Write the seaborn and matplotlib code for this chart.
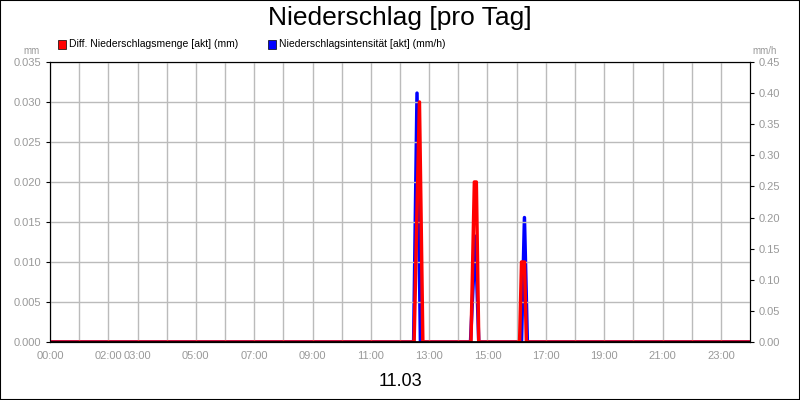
import matplotlib
matplotlib.use("Agg")
import matplotlib.pyplot as plt
import seaborn as sns
import pandas as pd

sns.set_style("white")
plt.rcParams['font.family'] = ['Liberation Sans', 'DejaVu Sans']

red_times = ["00:00", "12:29", "12:40", "12:47", "14:26", "14:33", "14:37", "14:42", "16:06", "16:10", "16:16", "16:20", "24:00"]
red_vals = [0, 0, 0.030, 0, 0, 0.020, 0.020, 0, 0, 0.010, 0.010, 0, 0]
blue_times = ["00:00", "12:28", "12:35", "12:42", "14:25", "14:35", "14:42", "16:10", "16:16", "16:22", "24:00"]
blue_vals = [0, 0, 0.40, 0, 0, 0.17, 0, 0, 0.20, 0, 0]
tick_labels = ["00:00", "02:00", "03:00", "05:00", "07:00", "09:00", "11:00", "13:00", "15:00", "17:00", "19:00", "21:00", "23:00"]

def hours(s):
    h, m = s.split(":")
    return int(h) + int(m) / 60

red = pd.DataFrame({"t": [hours(s) for s in red_times], "v": red_vals})
blue = pd.DataFrame({"t": [hours(s) for s in blue_times], "v": blue_vals})

fig = plt.figure(figsize=(8, 4), dpi=100)
fig.patches.append(plt.Rectangle((0, 0), 1, 1, transform=fig.transFigure, fill=False, ec="black", lw=1.5))
ax = fig.add_axes([50/800, 58/400, 700/800, 280/400])
ax2 = ax.twinx()

sns.lineplot(data=blue, x="t", y="v", ax=ax2, color="#0000ff", lw=2.5)
sns.lineplot(data=red, x="t", y="v", ax=ax, color="#ff0000", lw=2.5)
ax.set_zorder(ax2.get_zorder() + 1)
ax.patch.set_visible(False)
ax.axhline(0, color="black", lw=2, zorder=5)

ax.set_xlim(0, 24)
ax.set_ylim(0, 0.035)
ax2.set_ylim(0, 0.45)
ax.set_yticks([i * 0.005 for i in range(8)])
ax.set_yticklabels([f"{i*0.005:.3f}" for i in range(8)])
ax2.set_yticks([i * 0.05 for i in range(10)])
ax2.set_yticklabels([f"{i*0.05:.2f}" for i in range(10)])
ax.set_xticks(range(24), minor=True)
ax.set_xticks([hours(s) for s in tick_labels])
ax.set_xticklabels(tick_labels)
ax.grid(True, which="both", axis="x", color="#bbbbbb", lw=1)
ax.grid(True, axis="y", color="#bbbbbb", lw=1)
for a in (ax, ax2):
    a.set_xlabel("")
    a.set_ylabel("")
    a.tick_params(labelsize=8, labelcolor="#999999", length=3, color="black")
    for s in a.spines.values():
        s.set_color("black")
ax.tick_params(axis="x", which="minor", length=0)

fig.text(0.5, 0.955, "Niederschlag [pro Tag]", ha="center", va="center", fontsize=19, color="black")
fig.text(0.5, 0.045, "11.03", ha="center", va="center", fontsize=13, color="black")
fig.text(40/800, 349/400, "mm", ha="right", va="center", fontsize=7, color="#999999")
fig.text(765/800, 349/400, "mm/h", ha="center", va="center", fontsize=7, color="#999999")
fig.patches.append(plt.Rectangle((58/800, 351/400), 8/800, 9/400, transform=fig.transFigure, fc="red", ec="black", lw=0.5))
fig.text(69/800, 356/400, "Diff. Niederschlagsmenge [akt] (mm)", va="center", fontsize=7.5, color="black")
fig.patches.append(plt.Rectangle((268/800, 351/400), 8/800, 9/400, transform=fig.transFigure, fc="blue", ec="black", lw=0.5))
fig.text(279/800, 356/400, "Niederschlagsintensität [akt] (mm/h)", va="center", fontsize=7.5, color="black")

fig.savefig("out.png", dpi=100)
